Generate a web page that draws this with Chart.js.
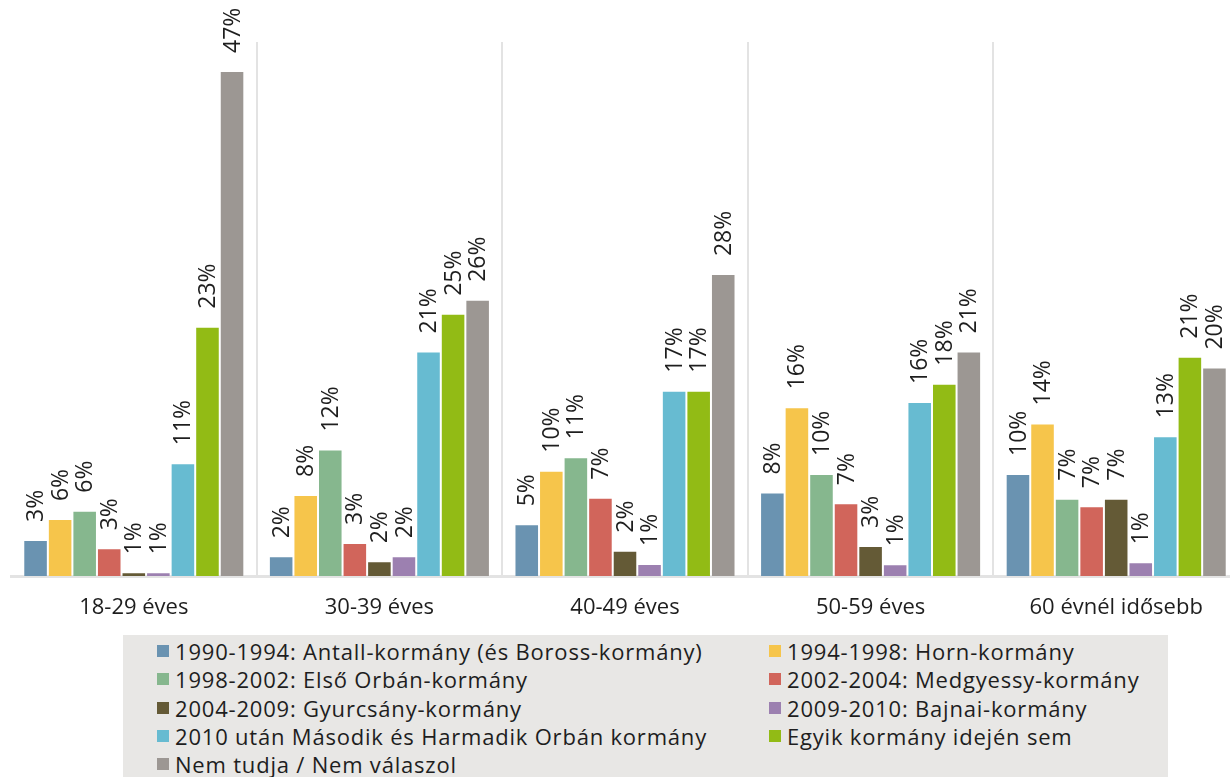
<!DOCTYPE html>
<html>
<head>
<meta charset="utf-8">
<script src="https://cdn.jsdelivr.net/npm/chart.js@4.4.1/dist/chart.umd.min.js"></script>
<style>
  html, body { margin: 0; padding: 0; background: #fff; overflow: hidden; width: 1230px; height: 777px; }
  #wrap { position: absolute; left: 0; top: 0; width: 1240px; height: 632px; }
  #legend { position: absolute; left: 123px; top: 635px; width: 1045px; height: 142px; background: #e8e7e5;
            font-family: "Open Sans", sans-serif; font-size: 22px; letter-spacing: 0.8px; color: #1e1e1e; }
  .item { position: absolute; height: 28px; display: flex; align-items: center; white-space: nowrap; }
  .sw { width: 12px; height: 12px; margin-right: 6px; flex: none; }
</style>
</head>
<body>
<div id="wrap"><canvas id="chart" width="1240" height="632"></canvas></div>
<div id="legend"></div>

<script>
// age groups
const categories = ["18-29 éves", "30-39 éves", "40-49 éves", "50-59 éves", "60 évnél idősebb"];

const seriesNames = [
  "1990-1994: Antall-kormány (és Boross-kormány)",
  "1994-1998: Horn-kormány",
  "1998-2002: Első Orbán-kormány",
  "2002-2004: Medgyessy-kormány",
  "2004-2009: Gyurcsány-kormány",
  "2009-2010: Bajnai-kormány",
  "2010 után Második és Harmadik Orbán kormány",
  "Egyik kormány idején sem",
  "Nem tudja / Nem válaszol"
];
const seriesColors = ["#6a93b1", "#f6c54b", "#86b78e", "#d1655b", "#645a36", "#9c80b0", "#67bbd1", "#92bb15", "#9c9793"];

// bar heights (%)
const antall    = [3.35, 1.83, 4.81, 7.76, 9.5];
const horn      = [5.3, 7.54, 9.8, 15.7, 14.2];
const orban1    = [6.08, 11.77, 11.05, 9.5, 7.2];
const medgyessy = [2.58, 3.07, 7.29, 6.77, 6.5];
const gyurcsany = [0.34, 1.37, 2.36, 2.8, 7.2];
const bajnai    = [0.34, 1.83, 1.12, 1.09, 1.27];
const orban23   = [10.5, 20.9, 17.25, 16.2, 13.0];
const egyik     = [23.2, 24.4, 17.25, 17.9, 20.4];
const nemTudja  = [47, 25.7, 28.1, 20.9, 19.4];

// printed percentage labels
const antallLbl    = [3, 2, 5, 8, 10];
const hornLbl      = [6, 8, 10, 16, 14];
const orban1Lbl    = [6, 12, 11, 10, 7];
const medgyessyLbl = [3, 3, 7, 7, 7];
const gyurcsanyLbl = [1, 2, 2, 3, 7];
const bajnaiLbl    = [1, 2, 1, 1, 1];
const orban23Lbl   = [11, 21, 17, 16, 13];
const egyikLbl     = [23, 25, 17, 18, 21];
const nemTudjaLbl  = [47, 26, 28, 21, 20];

const allValues = [antall, horn, orban1, medgyessy, gyurcsany, bajnai, orban23, egyik, nemTudja];
const allLabels = [antallLbl, hornLbl, orban1Lbl, medgyessyLbl, gyurcsanyLbl, bajnaiLbl, orban23Lbl, egyikLbl, nemTudjaLbl];

const FONT = "'Open Sans', sans-serif";

// rotated value labels above each bar
const barLabels = {
  id: "barLabels",
  afterDatasetsDraw(chart) {
    const ctx = chart.ctx;
    ctx.save();
    ctx.fillStyle = "#1e1e1e";
    ctx.font = "23px " + FONT;
    ctx.textAlign = "left";
    ctx.textBaseline = "middle";
    chart.data.datasets.forEach((ds, i) => {
      chart.getDatasetMeta(i).data.forEach((bar, j) => {
        ctx.save();
        ctx.translate(bar.x + 1, bar.y - 18);
        ctx.rotate(-Math.PI / 2);
        ctx.fillText(ds.shown[j] + "%", 0, 0);
        ctx.restore();
      });
    });
    ctx.restore();
  }
};

new Chart(document.getElementById("chart"), {
  type: "bar",
  data: {
    labels: categories,
    datasets: seriesNames.map((name, i) => ({
      label: name,
      data: allValues[i],
      shown: allLabels[i],
      backgroundColor: seriesColors[i],
      borderColor: "rgba(255,255,255,0.35)",
      borderWidth: 1,
      categoryPercentage: 0.9,
      barPercentage: 1.0
    }))
  },
  options: {
    responsive: false,
    animation: false,
    layout: { padding: { left: 11, right: 1, top: 42, bottom: 0 } },
    plugins: { legend: { display: false }, tooltip: { enabled: false } },
    scales: {
      x: {
        grid: {
          offset: true,
          drawTicks: false,
          lineWidth: 2,
          color: (c) => (c.index === 0 || c.index === categories.length) ? "rgba(0,0,0,0)" : "#e3e3e3"
        },
        border: { color: "#e3e3e3", width: 3 },
        ticks: { color: "#1e1e1e", font: { family: FONT, size: 22 }, padding: 19 },
        afterFit: (s) => { s.height = 56; }
      },
      y: {
        display: false,
        min: 0,
        max: 49.7
      }
    }
  },
  plugins: [barLabels]
});

// legend, two columns, filled row by row
const legend = document.getElementById("legend");
seriesNames.forEach((name, i) => {
  const el = document.createElement("div");
  el.className = "item";
  el.style.left = (i % 2 === 0 ? 34 : 646) + "px";
  el.style.top = (2 + Math.floor(i / 2) * 28.3) + "px";
  el.innerHTML = '<span class="sw" style="background:' + seriesColors[i] + '"></span>' + name;
  legend.appendChild(el);
});
</script>
</body>
</html>
